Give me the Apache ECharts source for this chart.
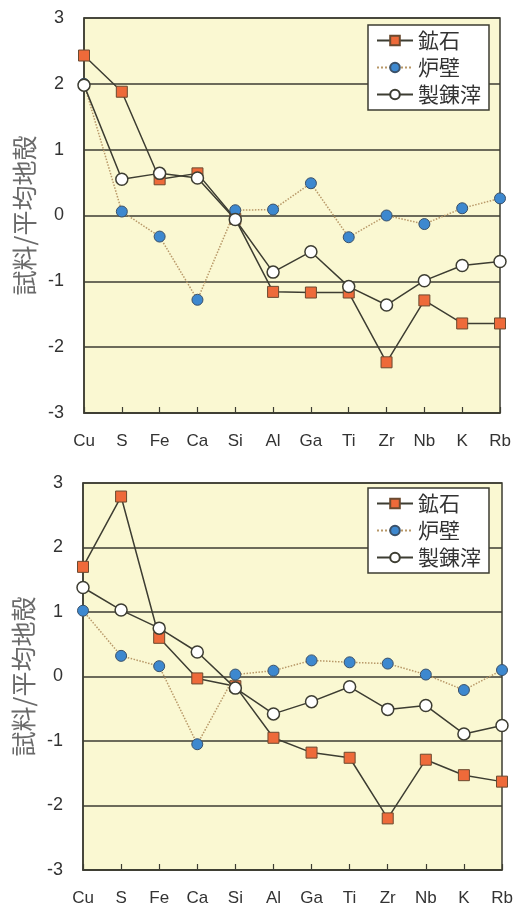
<!DOCTYPE html>
<html>
<head>
<meta charset="utf-8">
<script src="https://cdn.jsdelivr.net/npm/echarts@6/dist/echarts.min.js"></script>
<style>
html,body{margin:0;padding:0;background:#fff;}
#c{width:516px;height:907px;}
</style>
</head>
<body>
<div id="c"></div>
<script>
const categories = ['Cu','S','Fe','Ca','Si','Al','Ga','Ti','Zr','Nb','K','Rb'];
const yTicks = [-3,-2,-1,0,1,2,3];
const seriesNames = ['鉱石','炉壁','製錬滓'];

// upper chart
const oreTop   = [2.43, 1.88, 0.55, 0.64, -0.05, -1.16, -1.17, -1.17, -2.23, -1.29, -1.64, -1.64];
const wallTop  = [2.0, 0.06, -0.32, -1.28, 0.08, 0.09, 0.49, -0.33, 0.0, -0.13, 0.11, 0.26];
const slagTop  = [1.98, 0.55, 0.64, 0.57, -0.06, -0.86, -0.55, -1.08, -1.36, -0.99, -0.76, -0.70];

// lower chart
const oreBot   = [1.70, 2.79, 0.60, -0.03, -0.15, -0.95, -1.18, -1.26, -2.20, -1.29, -1.53, -1.63];
const wallBot  = [1.02, 0.32, 0.16, -1.05, 0.03, 0.09, 0.25, 0.22, 0.20, 0.03, -0.21, 0.10];
const slagBot  = [1.38, 1.03, 0.75, 0.38, -0.18, -0.58, -0.39, -0.16, -0.51, -0.45, -0.89, -0.76];

const dark = '#3d3d32';
const latin = '"Liberation Sans", Arial, sans-serif';
const cjk = '"Noto Sans CJK JP", sans-serif';

function xAxis(gi){
  return {
    type:'category', gridIndex:gi, data:categories, boundaryGap:false,
    axisLine:{show:true, onZero:false, lineStyle:{color:dark, width:1.5}},
    axisTick:{show:true, inside:true, length:6, lineStyle:{color:dark, width:1.2}},
    axisLabel:{color:'#333', fontSize:17, fontFamily:latin, margin:20, interval:0},
    splitLine:{show:false}
  };
}
function yAxis(gi){
  return {
    type:'value', gridIndex:gi, min:yTicks[0], max:yTicks[yTicks.length-1], interval:1,
    name:'試料/平均地殻', nameLocation:'middle', nameRotate:90, nameGap:47,
    nameTextStyle:{color:'#6a6a6a', fontSize:25, fontFamily:cjk},
    axisLine:{show:true, onZero:false, lineStyle:{color:dark, width:1.5}},
    axisTick:{show:false},
    axisLabel:{color:'#333', fontSize:18, fontFamily:latin, margin:20},
    splitLine:{show:true, lineStyle:{color:dark, width:1.5}}
  };
}
function series(gi, ore, wall, slag){
  return [
    {name:seriesNames[0], type:'line', xAxisIndex:gi, yAxisIndex:gi, data:ore,
     symbol:'rect', symbolSize:11, z:3,
     lineStyle:{color:dark, width:1.5},
     itemStyle:{color:'#ee6a3a', borderColor:'#6a4a30', borderWidth:1}},
    {name:seriesNames[1], type:'line', xAxisIndex:gi, yAxisIndex:gi, data:wall,
     symbol:'circle', symbolSize:11, z:4,
     lineStyle:{color:'#b89868', width:1.5, type:'dotted'},
     itemStyle:{color:'#3d88cf', borderColor:'#3a5068', borderWidth:1}},
    {name:seriesNames[2], type:'line', xAxisIndex:gi, yAxisIndex:gi, data:slag,
     symbol:'circle', symbolSize:12, z:5, showAllSymbol:true,
     lineStyle:{color:dark, width:1.5},
     itemStyle:{color:'#ffffff', borderColor:dark, borderWidth:1.5}}
  ];
}
function legend(top){
  return {
    orient:'vertical', left:368, top:top, data:seriesNames,
    backgroundColor:'#fff', borderColor:dark, borderWidth:1.5,
    padding:[5,8,5,8], itemGap:6, itemWidth:36, itemHeight:12,
    textStyle:{fontSize:21, fontFamily:cjk, color:'#333'}
  };
}

const chart = echarts.init(document.getElementById('c'), null, {renderer:'canvas'});
chart.setOption({
  backgroundColor:'#ffffff',
  animation:false,
  grid:[
    {left:84, right:16, top:18, height:395, show:true, backgroundColor:'#faf8d2', borderColor:dark, borderWidth:1.5},
    {left:83, right:14, top:483, height:389, show:true, backgroundColor:'#faf8d2', borderColor:dark, borderWidth:1.5}
  ],
  xAxis:[xAxis(0), xAxis(1)],
  yAxis:[yAxis(0), yAxis(1)],
  legend:[legend(25), legend(488)],
  series:[...series(0, oreTop, wallTop, slagTop), ...series(1, oreBot, wallBot, slagBot)]
});
</script>
</body>
</html>
